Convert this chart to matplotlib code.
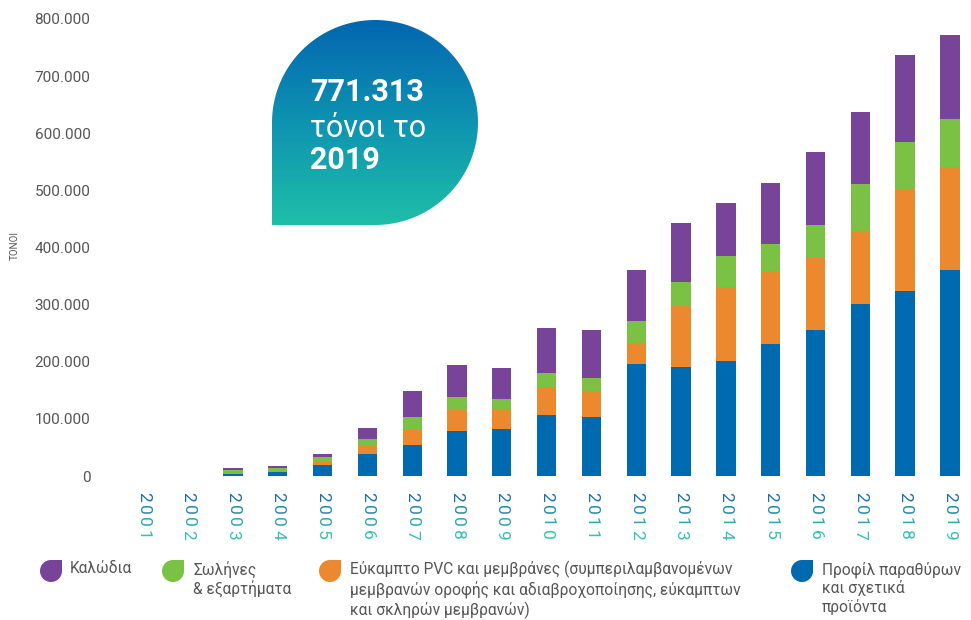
import numpy as np
import matplotlib.pyplot as plt
from matplotlib.patches import Polygon
from matplotlib.colors import LinearSegmentedColormap, to_rgb
from matplotlib.transforms import offset_copy

plt.rcParams['font.family'] = ['Roboto', 'DejaVu Sans']

W, H = 971, 620

years = ['2001', '2002', '2003', '2004', '2005', '2006', '2007', '2008', '2009', '2010',
         '2011', '2012', '2013', '2014', '2015', '2016', '2017', '2018', '2019']
# tonnes per category
profiles = [0, 0, 3500, 7000, 19000, 38500, 54000, 79000, 82000, 107000,
            103000, 196000, 191000, 201000, 231000, 256000, 301000, 324000, 361000]
pvc = [0, 0, 1500, 1000, 5500, 16500, 28000, 37000, 35000, 48000,
       46000, 37000, 107000, 130000, 127000, 126000, 128000, 179000, 180000]
pipes = [0, 0, 5500, 6000, 8500, 10000, 21000, 22000, 18000, 25000,
         23000, 38000, 42000, 54000, 48000, 58000, 82000, 82000, 84000]
cables = [0, 0, 3500, 3500, 5500, 19000, 46000, 56000, 54000, 79000,
          84000, 90000, 103000, 93000, 107000, 127000, 126000, 152000, 146313]

yticks = [0, 100000, 200000, 300000, 400000, 500000, 600000, 700000, 800000]

c_blue = '#006ab1'
c_orange = '#ec892e'
c_green = '#7bc143'
c_purple = '#774499'

labels = ['Καλώδια',
          'Σωλήνες\n& εξαρτήματα',
          'Εύκαμπτο PVC και μεμβράνες (συμπεριλαμβανομένων\n'
          'μεμβρανών οροφής και αδιαβροχοποίησης, εύκαμπτων\n'
          'και σκληρών μεμβρανών)',
          'Προφίλ παραθύρων\nκαι σχετικά\nπροϊόντα']
label_colors = [c_purple, c_green, c_orange, c_blue]


def leaf(cx, cy, rx, ry, corner):
    # circle with one square corner (corner = angle in degrees of that corner)
    t = np.radians(np.linspace(corner + 45, corner + 315, 100))
    xs = list(cx + rx * np.cos(t))
    ys = list(cy + ry * np.sin(t))
    c = np.radians(corner)
    xs.append(cx + rx * np.sign(np.cos(c)))
    ys.append(cy + ry * np.sign(np.sin(c)))
    return np.column_stack([xs, ys])


fig = plt.figure(figsize=(W / 100, H / 100), dpi=100)
ax = fig.add_axes([121 / W, 1 - 476 / H, 850 / W, 457 / H])

x = np.arange(len(years))
wd = 0.43
b1 = np.array(profiles)
b2 = b1 + np.array(pvc)
b3 = b2 + np.array(pipes)
ax.bar(x, profiles, wd, color=c_blue)
ax.bar(x, pvc, wd, bottom=b1, color=c_orange)
ax.bar(x, pipes, wd, bottom=b2, color=c_green)
ax.bar(x, cables, wd, bottom=b3, color=c_purple)

ax.set_xlim(-0.5, 18.47)
ax.set_ylim(0, 800000)
for s in ax.spines.values():
    s.set_visible(False)
ax.set_yticks(yticks)
ax.set_yticklabels(['{:,}'.format(v).replace(',', '.') for v in yticks])
ax.tick_params(axis='y', length=0, pad=22, labelsize=11, labelcolor='#555555')
ax.set_xticks([])

fig.text(15 / W, 1 - 245 / H, 'ΤΟΝΟΙ', rotation=90, ha='center', va='center',
         fontsize=7, color='#555555')

# year labels, top-down digits with a blue→teal gradient
top_c = np.array(to_rgb('#1a6db3'))
bot_c = np.array(to_rgb('#33c3b0'))
for i, yr in enumerate(years):
    for k, ch in enumerate(yr):
        frac = k / (len(yr) - 1)
        col = top_c + (bot_c - top_c) * frac
        tr = offset_copy(ax.transData, fig=fig, x=0, y=-(21 + 12.5 * k), units='dots')
        ax.text(i, 0, ch, transform=tr, rotation=270, ha='center', va='center',
                fontsize=12.5, color=col, clip_on=False)

# callout bubble
bax = fig.add_axes([272 / W, 395 / H, 206 / W, 205 / H])
bax.set_xlim(0, 1)
bax.set_ylim(0, 1)
bax.axis('off')
cmap = LinearSegmentedColormap.from_list('bub', ['#1ebfa8', '#0e93b1', '#0366b0'])
grad = np.linspace(0, 1, 256).reshape(-1, 1)
im = bax.imshow(grad, extent=(0, 1, 0, 1), origin='lower', aspect='auto', cmap=cmap)
clip = Polygon(leaf(0.5, 0.5, 0.5, 0.5, 225), closed=True, transform=bax.transAxes,
               facecolor='none', edgecolor='none')
bax.add_patch(clip)
im.set_clip_path(clip)
bax.text(0.184, 0.649, '771.313', color='white', fontsize=22, fontweight='bold',
         va='center', ha='left')
bax.text(0.184, 0.473, 'τόνοι το', color='white', fontsize=22,
         va='center', ha='left')
bax.text(0.184, 0.317, '2019', color='white', fontsize=22, fontweight='bold',
         va='center', ha='left')

# legend
mark_x = [51, 173, 330, 802]
text_x = [70, 193, 350, 822]
for mx, tx, lab, col in zip(mark_x, text_x, labels, label_colors):
    pts = leaf(mx, H - 571, 11, 11, 45)
    pts = pts / np.array([W, H])
    fig.patches.append(Polygon(pts, closed=True, transform=fig.transFigure,
                               facecolor=col, edgecolor='none'))
    fig.text(tx / W, 1 - 561 / H, lab, ha='left', va='top', fontsize=11.2,
             color='#555555', linespacing=1.22)

fig.savefig('out.png', dpi=100)
